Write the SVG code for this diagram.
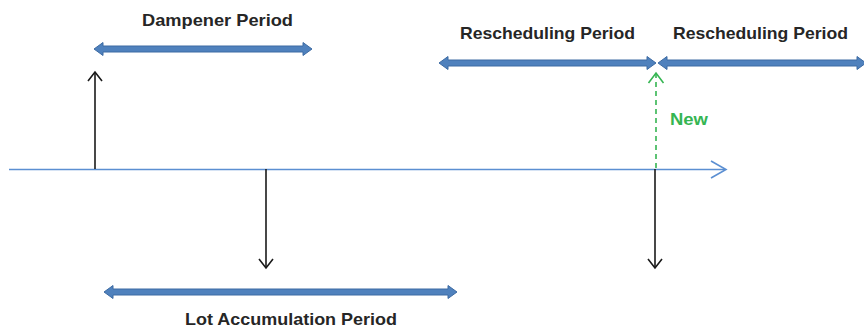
<svg xmlns="http://www.w3.org/2000/svg" width="864" height="329" viewBox="0 0 864 329">
<style>
.lbl{font-family:"Liberation Sans",Arial,sans-serif;font-weight:bold;font-size:17px;fill:#262626}
.new{font-family:"Liberation Sans",Arial,sans-serif;font-weight:bold;font-size:17px;fill:#35b552}
.band{fill:#4f81bd;stroke:#3d6ba3;stroke-width:1}
.blk{stroke:#1a1a1a;stroke-width:1.6;fill:none}
</style>
<rect width="864" height="329" fill="#ffffff"/>
<g id="connectors">
  <g id="timeline">
    <line x1="9" y1="169.5" x2="725" y2="169.5" stroke="#5b8fd2" stroke-width="1.6"/>
    <polyline points="711,161 726,169.5 711,178" fill="none" stroke="#5b8fd2" stroke-width="1.6"/>
  </g>
  <g id="up-arrow">
    <line class="blk" x1="95" y1="169" x2="95" y2="72"/>
    <polyline class="blk" points="88,81 95,72 102,81"/>
  </g>
  <g id="down-arrow-1">
    <line class="blk" x1="266" y1="169" x2="266" y2="268"/>
    <polyline class="blk" points="259,259 266,268 273,259"/>
  </g>
  <g id="down-arrow-2">
    <line class="blk" x1="655" y1="169" x2="655" y2="268"/>
    <polyline class="blk" points="648,259 655,268 662,259"/>
  </g>
  <g id="new-arrow">
    <line x1="656" y1="168" x2="656" y2="74" stroke="#35b552" stroke-width="1.6" stroke-dasharray="5,4"/>
    <polyline points="648.5,83 656,73 663.5,83" fill="none" stroke="#35b552" stroke-width="1.6"/>
  </g>
</g>
<g id="dampener">
  <polygon class="band" points="94,49 103,42.5 103,46 303,46 303,42.5 312,49 303,55.5 303,52 103,52 103,55.5"/>
  <text class="lbl" x="142" y="26" textLength="151" lengthAdjust="spacingAndGlyphs">Dampener Period</text>
</g>
<g id="rescheduling-1">
  <polygon class="band" points="439,63 448,56.5 448,60 647,60 647,56.5 656,63 647,69.5 647,66 448,66 448,69.5"/>
  <text class="lbl" x="460" y="39" textLength="175" lengthAdjust="spacingAndGlyphs">Rescheduling Period</text>
</g>
<g id="rescheduling-2">
  <polygon class="band" points="658,63 667,56.5 667,60 857,60 857,56.5 866,63 857,69.5 857,66 667,66 667,69.5"/>
  <text class="lbl" x="673" y="39" textLength="175" lengthAdjust="spacingAndGlyphs">Rescheduling Period</text>
</g>
<g id="lot-accumulation">
  <polygon class="band" points="104,292 113,285.5 113,289 448,289 448,285.5 457,292 448,298.5 448,295 113,295 113,298.5"/>
  <text class="lbl" x="185" y="325" textLength="212" lengthAdjust="spacingAndGlyphs">Lot Accumulation Period</text>
</g>
<g id="new-label">
  <text class="new" x="670" y="125" textLength="38" lengthAdjust="spacingAndGlyphs">New</text>
</g>
</svg>
